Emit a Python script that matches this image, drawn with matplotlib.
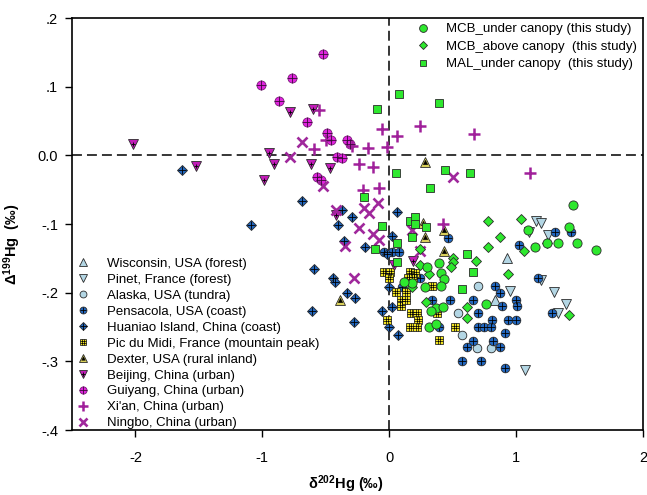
import matplotlib.pyplot as plt
from matplotlib.path import Path

plt.rcParams['font.family'] = ['Liberation Sans', 'DejaVu Sans']
plt.rcParams['mathtext.fontset'] = 'custom'
plt.rcParams['mathtext.rm'] = 'Liberation Sans'
plt.rcParams['mathtext.it'] = 'Liberation Sans:italic'
plt.rcParams['mathtext.bf'] = 'Liberation Sans:bold'

# delta202Hg (x) and Delta199Hg (y), per site
wisc_x = [0.93, 0.83]
wisc_y = [-0.150, -0.210]

pinet_x = [1.16, 1.20, 1.10, 1.25, 1.20, 0.95, 1.30, 1.39, 1.33, 1.07]
pinet_y = [-0.096, -0.098, -0.111, -0.116, -0.182, -0.197, -0.199, -0.217, -0.229, -0.313]

alaska_x = [0.70, 0.54, 0.57, 0.69, 0.80]
alaska_y = [-0.191, -0.230, -0.261, -0.281, -0.281]

pens_x = [0.46, 1.02, 1.31, 1.43, 1.17, 0.83, 0.87, 0.48, 0.66, 0.89, 1.00, 1.01,
          0.70, 0.81, 0.94, 1.00, 0.70, 0.75, 0.80, 0.39, 0.91, 0.66, 0.82, 0.61,
          0.87, 0.57, 0.72, 0.91, 1.28, 0.34, 0.24, -0.04, 0.02, 0.08, 0.10]
pens_y = [-0.121, -0.130, -0.111, -0.111, -0.179, -0.191, -0.201, -0.210, -0.210, -0.220, -0.210, -0.220,
          -0.230, -0.240, -0.240, -0.240, -0.250, -0.250, -0.250, -0.250, -0.259, -0.271, -0.271, -0.279,
          -0.279, -0.300, -0.300, -0.310, -0.230, -0.211, -0.179, -0.141, -0.141, -0.141, -0.192]

huaniao_x = [-1.63, -1.09, -0.69, -0.59, -0.61, -0.37, -0.29, -0.40, -0.36, -0.19, 0.06, -0.02,
             -0.44, -0.43, -0.33, -0.27, -0.28, 0.00, -0.06, 0.02, 0.00, 0.07, 0.02]
huaniao_y = [-0.022, -0.102, -0.066, -0.166, -0.227, -0.080, -0.090, -0.102, -0.125, -0.134, -0.082, -0.143,
             -0.178, -0.185, -0.201, -0.208, -0.243, -0.192, -0.227, -0.221, -0.250, -0.262, -0.118]

pic_x = [-0.04, 0.01, 0.00, 0.16, 0.20, 0.15, 0.19, 0.05, 0.13, 0.09, 0.09, 0.13,
         0.17, 0.22, 0.23, 0.16, 0.22, -0.02, 0.38, 0.52, 0.39, 0.34]
pic_y = [-0.170, -0.170, -0.179, -0.170, -0.172, -0.179, -0.179, -0.199, -0.199, -0.211, -0.220, -0.211,
         -0.230, -0.230, -0.240, -0.250, -0.250, -0.240, -0.229, -0.250, -0.269, -0.191]

dexter_x = [0.28, 0.27, 0.43, 0.28, 0.43, -0.39]
dexter_y = [-0.010, -0.099, -0.109, -0.119, -0.140, -0.210]

beijing_x = [-2.02, -1.52, -0.95, -0.91, -0.99, -0.78, -0.60, -0.62, -0.47, -0.42, 0.04, 0.19]
beijing_y = [0.017, -0.016, 0.004, -0.012, -0.036, 0.063, 0.068, -0.013, -0.019, -0.087, -0.160, -0.154]

guiyang_x = [-0.52, -0.77, -1.01, -0.87, -0.65, -0.49, -0.46, -0.33, -0.31, -0.41, -0.37, -0.57, -0.54]
guiyang_y = [0.148, 0.112, 0.102, 0.079, 0.048, 0.033, 0.023, 0.022, 0.016, -0.003, -0.004, -0.031, -0.036]

xian_x = [-0.55, -0.59, -0.50, -0.29, -0.17, -0.06, -0.02, 0.06, 0.24, 0.67, 1.11, -0.24,
          -0.13, -0.08, -0.21, 0.42]
xian_y = [0.066, 0.009, 0.023, 0.013, 0.010, 0.038, 0.012, 0.028, 0.042, 0.031, -0.026, -0.013,
          -0.017, -0.047, -0.051, -0.100]

ningbo_x = [-0.69, -0.78, -0.52, -0.42, -0.20, -0.16, -0.09, -0.24, -0.13, -0.08, -0.35, 0.18,
            0.24, -0.28, 0.50]
ningbo_y = [0.020, -0.003, -0.045, -0.080, -0.076, -0.084, -0.070, -0.106, -0.115, -0.124, -0.132, -0.109,
            -0.140, -0.178, -0.032]

mcb_under_x = [1.45, 1.42, 1.09, 1.33, 1.48, 1.63, 1.15, 1.24, 0.39, 0.41, 0.43, 0.41,
               0.30, 0.28, 0.18, 0.37, 0.33, 0.42, 0.31, 0.37, 0.76, 0.12]
mcb_under_y = [-0.073, -0.105, -0.109, -0.127, -0.127, -0.138, -0.134, -0.127, -0.157, -0.172, -0.180, -0.191,
               -0.163, -0.192, -0.186, -0.223, -0.226, -0.221, -0.250, -0.245, -0.217, -0.185]

mcb_above_x = [0.78, 1.04, 0.87, 0.78, 1.06, 1.24, 0.68, 0.94, 0.50, 0.50, 0.49, 0.61,
               0.61, 1.42, 0.31, 0.24, 0.18, 0.29, 0.24]
mcb_above_y = [-0.095, -0.092, -0.119, -0.134, -0.140, -0.127, -0.154, -0.173, -0.150, -0.156, -0.162, -0.221,
               -0.237, -0.233, -0.173, -0.160, -0.192, -0.214, -0.137]

mal_x = [0.08, 0.39, -0.10, 0.05, 0.44, 0.64, 0.32, -0.20, -0.06, 0.16, 0.20, 0.20,
         0.29, 0.18, 0.06, -0.11, 0.61, 0.66, 0.57, 0.06]
mal_y = [0.090, 0.076, 0.067, -0.026, -0.022, -0.025, -0.048, -0.060, -0.103, -0.095, -0.090, -0.100,
         -0.105, -0.119, -0.127, -0.137, -0.143, -0.170, -0.195, -0.156]

x_ticks = [-2, -1, 0, 1, 2]
x_tick_labels = ['-2', '-1', '0', '1', '2']
y_ticks = [0.2, 0.1, 0.0, -0.1, -0.2, -0.3, -0.4]
y_tick_labels = ['.2', '.1', '0.0', '-.1', '-.2', '-.3', '-.4']

# grid pattern drawn over the Pic du Midi squares
t = 1 / 3
grid_path = Path([(-1, -t), (1, -t), (-1, t), (1, t), (-t, -1), (-t, 1), (t, -1), (t, 1)],
                 [Path.MOVETO, Path.LINETO] * 4)

light = '#b3d6e4'
blue = '#2167c0'
edge = '#2b2b2b'
green = '#2ee82e'

fig = plt.figure(figsize=(6.47, 4.95), dpi=100)
ax = fig.add_axes([72 / 647, 1 - 430 / 495, 571 / 647, 412 / 495])

ax.axhline(0, color='k', lw=1.1, ls=(0, (6.5, 3.3)), zorder=1)
ax.axvline(0, color='k', lw=1.1, ls=(0, (6.5, 3.3)), zorder=1)


def pts(x, y, marker, face, ms, ec=edge, mew=0.6, z=3):
    return ax.plot(x, y, ls='none', marker=marker, mfc=face, mec=ec, ms=ms, mew=mew, zorder=z)[0]


# literature sites
h_wisc = pts(wisc_x, wisc_y, '^', light, 6.5)
h_pinet = pts(pinet_x, pinet_y, 'v', light, 6.5)
h_alaska = pts(alaska_x, alaska_y, 'o', light, 6.2)
h_pens = (pts(pens_x, pens_y, 'o', blue, 6.2),
          pts(pens_x, pens_y, '+', 'none', 6.2, ec='k', mew=0.6, z=3.1))
h_huan = (pts(huaniao_x, huaniao_y, 'D', blue, 4.6),
          pts(huaniao_x, huaniao_y, '+', 'none', 6.3, ec='k', mew=0.6, z=3.1))
h_pic = (pts(pic_x, pic_y, 's', '#f2e422', 6.0),
         pts(pic_x, pic_y, grid_path, 'none', 6.0, ec='k', mew=0.5, z=3.1))
h_dex = (pts(dexter_x, dexter_y, '^', '#d9d05a', 6.5),
         pts(dexter_x, dexter_y, '^', 'k', 3.2, ec='k', mew=0.3, z=3.1))
h_bj = (pts(beijing_x, beijing_y, 'v', '#c21cb8', 6.5),
        pts(beijing_x, beijing_y, '+', 'none', 3.0, ec='k', mew=0.6, z=3.1))
h_gy = (pts(guiyang_x, guiyang_y, 'o', '#e024de', 6.5, ec='#7a1a78'),
        pts(guiyang_x, guiyang_y, '+', 'none', 6.5, ec='#3a0a3a', mew=0.6, z=3.1))
h_xa = pts(xian_x, xian_y, '+', 'none', 8.5, ec='#a0209a', mew=1.8)
h_nb = pts(ningbo_x, ningbo_y, 'x', 'none', 7.5, ec='#a0289c', mew=1.9)

# this study
h_mal = pts(mal_x, mal_y, 's', green, 5.8, z=4)
h_mcb_a = pts(mcb_above_x, mcb_above_y, 'D', green, 5.0, z=4)
h_mcb_u = pts(mcb_under_x, mcb_under_y, 'o', green, 6.6, z=4)

ax.set_xlim(-2.5, 2)
ax.set_ylim(-0.4, 0.2)
ax.set_xticks(x_ticks)
ax.set_xticklabels(x_tick_labels)
ax.set_yticks(y_ticks)
ax.set_yticklabels(y_tick_labels)
ax.tick_params(direction='out', length=5, width=1, labelsize=10.5, pad=5)
ax.tick_params(axis='x', pad=10)
for s in ax.spines.values():
    s.set_linewidth(1.2)

ax.set_xlabel(r'$\mathbf{\delta^{202}Hg}$ (‰)', fontsize=10.5, fontweight='bold')
ax.xaxis.set_label_coords(0.48, -0.105)
ax.set_ylabel(r'$\mathbf{\Delta^{199}Hg}$  (‰)', fontsize=10.5, fontweight='bold')
ax.yaxis.set_label_coords(-0.085, 0.45)

leg1 = ax.legend([h_mcb_u, h_mcb_a, h_mal],
                 ['MCB_under canopy (this study)', 'MCB_above canopy  (this study)',
                  'MAL_under canopy  (this study)'],
                 loc='upper left', bbox_to_anchor=(0.604, 0.988), frameon=False, fontsize=9.5,
                 borderpad=0, borderaxespad=0, handlelength=1.0, handletextpad=1.2,
                 labelspacing=0.4, markerscale=0.85)
ax.add_artist(leg1)

ax.legend([h_wisc, h_pinet, h_alaska, h_pens, h_huan, h_pic, h_dex, h_bj, h_gy, h_xa, h_nb],
          ['Wisconsin, USA (forest)', 'Pinet, France (forest)', 'Alaska, USA (tundra)',
           'Pensacola, USA (coast)', 'Huaniao Island, China (coast)',
           'Pic du Midi, France (mountain peak)', 'Dexter, USA (rural inland)',
           'Beijing, China (urban)', 'Guiyang, China (urban)', "Xi'an, China (urban)",
           'Ningbo, China (urban)'],
          loc='upper left', bbox_to_anchor=(0.008, 0.418), frameon=False, fontsize=9.5,
          borderpad=0, borderaxespad=0, handlelength=1.0, handletextpad=1.3,
          labelspacing=0.28, markerscale=0.8)

plt.savefig('out.png', dpi=100)
